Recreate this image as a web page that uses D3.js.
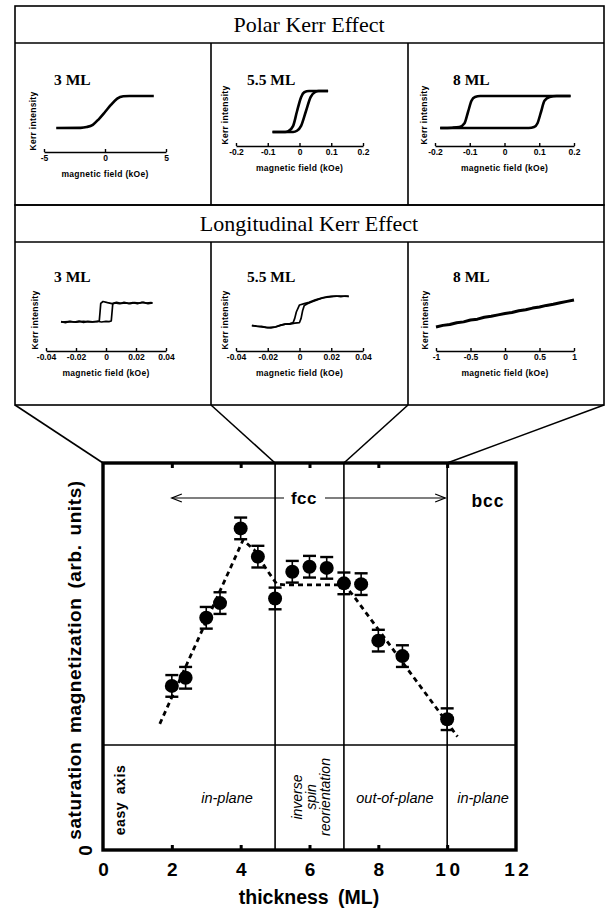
<!DOCTYPE html>
<html>
<head>
<meta charset="utf-8">
<script src="https://cdn.jsdelivr.net/npm/d3@7"></script>
<style>
body { margin: 0; background: #fff; }
svg { display: block; }
.sans { font-family: "Liberation Sans", Arial, Helvetica, sans-serif; font-weight: bold; }
.serif { font-family: "Liberation Serif", "Times New Roman", serif; }
.mini .tick text { font-family: "Liberation Sans", Arial, sans-serif; font-weight: bold; font-size: 8.5px; }
</style>
</head>
<body>
<svg id="fig" width="605" height="910"></svg>
<script>
// ---- main chart data: saturation magnetization vs thickness ----
var thickness = [2, 2.4, 3, 3.4, 4, 4.5, 5, 5.5, 6, 6.5, 7, 7.5, 8, 8.7, 10];
var magnetization = [4.24, 4.45, 6.0, 6.38, 8.31, 7.58, 6.50, 7.19, 7.32, 7.29, 6.89, 6.87, 5.41, 5.01, 3.38];
var errorHalf = 0.28;
// dashed guide to the eye
var guideX = [1.65, 4.07, 4.4, 4.75, 5.05, 5.3, 7.0, 7.25, 10.3];
var guideY = [3.26, 8.01, 7.75, 7.25, 6.87, 6.85, 6.85, 6.6, 2.93];
var xTicks = [0, 2, 4, 6, 8, 10, 12];
var phaseLines = [5, 7, 10];

// ---- inset loops (normalised Kerr intensity, 0 = low level, 1 = high level) ----
var miniLabels = ["3 ML", "5.5 ML", "8 ML"];
var polarTicks = [[-5, 0, 5], [-0.2, -0.1, 0, 0.1, 0.2], [-0.2, -0.1, 0, 0.1, 0.2]];
var longTicks = [[-0.04, -0.02, 0, 0.02, 0.04], [-0.04, -0.02, 0, 0.02, 0.04], [-1, -0.5, 0, 0.5, 1]];

var polar3 = [[-4, 0], [-2, 0.005], [-1.5, 0.03], [-1, 0.1], [-0.5, 0.28], [0, 0.5], [0.5, 0.73], [1, 0.92], [1.5, 0.99], [2, 1], [4, 1]];
var polar55Up = [[-0.085, 0], [-0.02, 0], [-0.008, 0.03], [0.005, 0.15], [0.02, 0.5], [0.035, 0.85], [0.05, 0.98], [0.06, 1], [0.09, 1]];
var polar55Down = [[-0.085, 0], [-0.045, 0], [-0.035, 0.02], [-0.02, 0.15], [-0.008, 0.5], [0.005, 0.85], [0.015, 0.97], [0.03, 1], [0.09, 1]];
var polar8Up = [[-0.185, 0], [0.07, 0], [0.085, 0.03], [0.095, 0.15], [0.105, 0.5], [0.115, 0.85], [0.13, 0.97], [0.15, 1], [0.19, 1]];
var polar8Down = [[-0.185, 0], [-0.15, 0.01], [-0.13, 0.03], [-0.115, 0.15], [-0.105, 0.5], [-0.095, 0.85], [-0.085, 0.97], [-0.07, 1], [0.19, 1]];

var long3Up = [[-0.030, 0.02], [-0.027, -0.03], [-0.024, 0.04], [-0.021, 0.0], [-0.018, 0.05], [-0.015, -0.02], [-0.012, 0.03], [-0.009, 0.01], [-0.006, 0.04], [-0.003, 0.0], [0.000, 0.03], [0.002, 0.02], [0.0035, 0.05], [0.004, 0.5], [0.0045, 0.95], [0.006, 1.0], [0.009, 0.96], [0.012, 1.03], [0.015, 0.98], [0.018, 1.02], [0.021, 0.97], [0.024, 1.04], [0.027, 0.99], [0.030, 1.02], [0.031, 1.0]];
var long3Down = [[0.031, 1.0], [0.028, 0.97], [0.025, 1.03], [0.022, 0.99], [0.019, 1.02], [0.016, 0.96], [0.013, 1.01], [0.010, 0.98], [0.007, 1.03], [0.004, 0.97], [0.001, 1.02], [-0.002, 1.08], [-0.0035, 0.98], [-0.004, 0.5], [-0.0045, 0.05], [-0.006, 0.02], [-0.010, 0.0], [-0.015, 0.03], [-0.020, -0.01], [-0.025, 0.02], [-0.030, 0.0]];
var long55Up = [[-0.030, 0.08], [-0.027, 0.06], [-0.024, 0.05], [-0.021, 0.02], [-0.018, 0.0], [-0.015, 0.03], [-0.012, 0.08], [-0.009, 0.12], [-0.006, 0.12], [-0.003, 0.15], [0.000, 0.17], [0.001, 0.30], [0.002, 0.55], [0.003, 0.70], [0.005, 0.76], [0.008, 0.82], [0.011, 0.88], [0.014, 0.93], [0.017, 0.97], [0.020, 0.99], [0.023, 1.0], [0.026, 0.98], [0.029, 1.0], [0.031, 0.99]];
var long55Down = [[0.031, 0.99], [0.025, 1.0], [0.020, 0.98], [0.015, 0.95], [0.010, 0.88], [0.006, 0.80], [0.003, 0.76], [0.000, 0.72], [-0.002, 0.50], [-0.003, 0.30], [-0.004, 0.17], [-0.006, 0.14], [-0.009, 0.12], [-0.012, 0.09], [-0.015, 0.04], [-0.020, 0.01], [-0.025, 0.04], [-0.030, 0.07]];
var long8 = [[-1, 0.0], [-0.9, 0.06], [-0.8, 0.09], [-0.7, 0.16], [-0.6, 0.19], [-0.5, 0.26], [-0.4, 0.29], [-0.3, 0.36], [-0.2, 0.40], [-0.1, 0.45], [0, 0.50], [0.1, 0.54], [0.2, 0.60], [0.3, 0.64], [0.4, 0.70], [0.5, 0.74], [0.6, 0.80], [0.7, 0.84], [0.8, 0.90], [0.9, 0.95], [1, 1.0]];

// ---- layout ----
var svg = d3.select("#fig");
var colX = [15, 211, 408], rightEdge = 604;
var rows = [
  {top: 6, sep: 43, bottom: 205, title: "Polar Kerr Effect", labelY: 85, ticks: polarTicks},
  {top: 205, sep: 242, bottom: 405, title: "Longitudinal Kerr Effect", labelY: 282, ticks: longTicks}
];
var labelX = [54, 247, 453];
var insets = [
  [ {x: [44, 166], axisY: 152, lo: 128, hi: 96, loops: [polar3], smooth: true},
    {x: [236, 363], axisY: 146, lo: 132, hi: 91, loops: [polar55Up, polar55Down], smooth: true},
    {x: [435, 574], axisY: 146, lo: 128, hi: 96, loops: [polar8Up, polar8Down], smooth: true} ],
  [ {x: [46, 166], axisY: 351, lo: 322, hi: 303, loops: [long3Up, long3Down], smooth: false},
    {x: [236, 363], axisY: 351, lo: 328, hi: 296, loops: [long55Up, long55Down], smooth: false},
    {x: [436, 574], axisY: 351, lo: 327, hi: 300, loops: [long8], smooth: false, thick: true} ]
];

var boxes = svg.append("g").attr("stroke", "#000").attr("stroke-width", 1.6).attr("fill", "none");

rows.forEach(function(r, ri) {
  boxes.append("rect").attr("x", colX[0]).attr("y", r.top).attr("width", rightEdge - colX[0]).attr("height", r.bottom - r.top);
  boxes.append("line").attr("x1", colX[0]).attr("x2", rightEdge).attr("y1", r.sep).attr("y2", r.sep);
  colX.slice(1).forEach(function(cx) {
    boxes.append("line").attr("x1", cx).attr("x2", cx).attr("y1", r.sep).attr("y2", r.bottom);
  });
  svg.append("text").attr("class", "serif").attr("x", 309).attr("y", r.sep - 11)
    .attr("text-anchor", "middle").attr("font-size", 22).text(r.title);

  insets[ri].forEach(function(p, ci) {
    var fields = r.ticks[ci];
    var hx = d3.scaleLinear().domain([fields[0], fields[fields.length - 1]]).range(p.x);
    var hy = d3.scaleLinear().domain([0, 1]).range([p.lo, p.hi]);
    var g = svg.append("g").attr("class", "mini");

    g.append("text").attr("class", "serif").attr("x", labelX[ci]).attr("y", r.labelY)
      .attr("font-size", 15.5).attr("font-weight", "bold").text(miniLabels[ci]);

    g.append("g").attr("transform", "translate(0," + p.axisY + ")")
      .call(d3.axisBottom(hx).tickValues(fields).tickSizeInner(-3).tickSizeOuter(0).tickPadding(3)
        .tickFormat(function(d) { return String(d); }))
      .call(function(a) { a.selectAll("path, line").attr("stroke-width", 1.4); });

    g.append("text").attr("class", "sans").attr("font-size", 8.5).attr("letter-spacing", 0.3)
      .attr("x", (p.x[0] + p.x[1]) / 2).attr("y", p.axisY + 25).attr("text-anchor", "middle")
      .text("magnetic field (kOe)");
    g.append("text").attr("class", "sans").attr("font-size", 8.5).attr("letter-spacing", 0.3)
      .attr("transform", "translate(" + (p.x[0] - 8) + "," + (p.axisY - 31) + ") rotate(-90)")
      .attr("text-anchor", "middle").text("Kerr intensity");

    var line = d3.line()
      .x(function(d) { return hx(d[0]); })
      .y(function(d) { return hy(d[1]); })
      .curve(p.smooth ? d3.curveMonotoneX : d3.curveLinear);
    p.loops.forEach(function(loop) {
      var pts = loop.slice().sort(function(a, b) { return a[0] - b[0]; });
      g.append("path").datum(p.smooth ? pts : loop)
        .attr("fill", "none").attr("stroke", "#000")
        .attr("stroke-width", p.thick ? 3 : (p.smooth ? 2.6 : 1.7))
        .attr("stroke-linejoin", "round")
        .attr("d", line);
    });
  });
});

// ---- main chart ----
var margin = {left: 103, right: 516, top: 463, bottom: 850};
var x = d3.scaleLinear().domain([0, 12]).range([margin.left, margin.right]);
var y = d3.scaleLinear().domain([0, 10]).range([margin.bottom, margin.top]);

// connectors from the inset panels to the phase boundaries
var connect = [[colX[0], 0], [colX[1], 5], [colX[2], 7], [rightEdge, 10]];
connect.forEach(function(c) {
  svg.append("line").attr("x1", c[0]).attr("y1", 405).attr("x2", x(c[1])).attr("y2", margin.top)
    .attr("stroke", "#000").attr("stroke-width", 1.6);
});

var plot = svg.append("g");

// phase boundaries and divider
phaseLines.forEach(function(t) {
  plot.append("line").attr("x1", x(t)).attr("x2", x(t)).attr("y1", margin.top).attr("y2", margin.bottom)
    .attr("stroke", "#000").attr("stroke-width", 1.6);
});
plot.append("line").attr("x1", margin.left).attr("x2", margin.right).attr("y1", 745).attr("y2", 745)
  .attr("stroke", "#000").attr("stroke-width", 1.6);

// inner tick marks
plot.append("g").attr("transform", "translate(0," + margin.bottom + ")")
  .call(d3.axisBottom(x).tickValues([2, 4, 6, 8, 10]).tickSize(-5).tickFormat(""))
  .call(function(a) { a.select(".domain").remove(); a.selectAll("line").attr("stroke-width", 3); });
plot.append("g").attr("transform", "translate(0," + margin.top + ")")
  .call(d3.axisTop(x).tickValues([2, 4, 6, 8, 10]).tickSize(-5).tickFormat(""))
  .call(function(a) { a.select(".domain").remove(); a.selectAll("line").attr("stroke-width", 3); });

// tick labels
var xAxis = plot.append("g").attr("transform", "translate(0," + margin.bottom + ")")
  .call(d3.axisBottom(x).tickValues(xTicks).tickSize(0).tickPadding(13).tickFormat(function(d) { return String(d); }));
xAxis.select(".domain").remove();
xAxis.selectAll("text").attr("class", "sans").attr("font-size", 19).attr("letter-spacing", 3.5).attr("dx", 1.75);

var yAxis = plot.append("g").attr("transform", "translate(" + margin.left + ",0)")
  .call(d3.axisLeft(y).tickValues([0]).tickSize(0).tickPadding(0).tickFormat(function(d) { return String(d); }));
yAxis.select(".domain").remove();
yAxis.selectAll("text").attr("class", "sans").attr("font-size", 19)
  .attr("text-anchor", "middle").attr("dy", 0).attr("x", 0)
  .attr("transform", "translate(-16,0) rotate(-90)").attr("dominant-baseline", "middle");

// frame
plot.append("rect").attr("x", margin.left).attr("y", margin.top)
  .attr("width", margin.right - margin.left).attr("height", margin.bottom - margin.top)
  .attr("fill", "none").attr("stroke", "#000").attr("stroke-width", 3.4);

svg.append("text").attr("class", "sans").attr("font-size", 19.5).attr("word-spacing", 4).attr("x", 309).attr("y", 904)
  .attr("text-anchor", "middle").text("thickness (ML)");
svg.append("text").attr("class", "sans").attr("font-size", 19).attr("letter-spacing", 0.6).attr("word-spacing", 3)
  .attr("transform", "translate(81,660) rotate(-90)").attr("text-anchor", "middle")
  .text("saturation magnetization (arb. units)");

// fcc / bcc arrow
var arrowY = 498;
plot.append("line").attr("x1", x(2)).attr("x2", 284).attr("y1", arrowY).attr("y2", arrowY).attr("stroke", "#000").attr("stroke-width", 1.2);
plot.append("line").attr("x1", 325).attr("x2", x(10) - 2).attr("y1", arrowY).attr("y2", arrowY).attr("stroke", "#000").attr("stroke-width", 1.2);
plot.append("path").attr("d", "M" + (x(2) + 10) + "," + (arrowY - 4) + "L" + x(2) + "," + arrowY + "L" + (x(2) + 10) + "," + (arrowY + 4))
  .attr("fill", "none").attr("stroke", "#000").attr("stroke-width", 1.3);
plot.append("path").attr("d", "M" + (x(10) - 12) + "," + (arrowY - 4) + "L" + (x(10) - 2) + "," + arrowY + "L" + (x(10) - 12) + "," + (arrowY + 4))
  .attr("fill", "none").attr("stroke", "#000").attr("stroke-width", 1.3);
plot.append("rect").attr("x", 285).attr("y", arrowY - 10).attr("width", 38).attr("height", 18).attr("fill", "#fff");
plot.append("text").attr("class", "sans").attr("font-size", 17).attr("letter-spacing", 0.5).attr("x", 304).attr("y", arrowY + 6)
  .attr("text-anchor", "middle").text("fcc");
plot.append("text").attr("class", "sans").attr("font-size", 17.5).attr("letter-spacing", 1).attr("x", 488).attr("y", 507)
  .attr("text-anchor", "middle").text("bcc");

// easy-axis region labels
var regionFont = "Liberation Sans, Arial, sans-serif";
plot.append("text").attr("class", "sans").attr("font-size", 14).attr("letter-spacing", 0.6).attr("word-spacing", 3)
  .attr("transform", "translate(125,800) rotate(-90)").attr("text-anchor", "middle").text("easy axis");
[["in-plane", 227], ["out-of-plane", 395], ["in-plane", 483]].forEach(function(t) {
  plot.append("text").attr("font-family", regionFont).attr("font-style", "italic").attr("font-size", 14.5)
    .attr("x", t[1]).attr("y", 803).attr("text-anchor", "middle").text(t[0]);
});
[["inverse", 302], ["spin", 316], ["reorientation", 330]].forEach(function(t) {
  plot.append("text").attr("font-family", regionFont).attr("font-style", "italic").attr("font-size", 14)
    .attr("transform", "translate(" + t[1] + ",797) rotate(-90)").attr("text-anchor", "middle").text(t[0]);
});

// dashed guide
var guide = guideX.map(function(v, i) { return [v, guideY[i]]; });
plot.append("path").datum(guide)
  .attr("fill", "none").attr("stroke", "#000").attr("stroke-width", 2.8).attr("stroke-dasharray", "5,4")
  .attr("d", d3.line().x(function(d) { return x(d[0]); }).y(function(d) { return y(d[1]); }));

// points with error bars
var pts = thickness.map(function(t, i) { return {t: t, m: magnetization[i]}; });
var pg = plot.append("g").selectAll("g").data(pts).enter().append("g");
pg.append("line")
  .attr("x1", function(d) { return x(d.t); }).attr("x2", function(d) { return x(d.t); })
  .attr("y1", function(d) { return y(d.m - errorHalf); }).attr("y2", function(d) { return y(d.m + errorHalf); })
  .attr("stroke", "#000").attr("stroke-width", 1.6);
[-1, 1].forEach(function(s) {
  pg.append("line")
    .attr("x1", function(d) { return x(d.t) - 6.5; }).attr("x2", function(d) { return x(d.t) + 6.5; })
    .attr("y1", function(d) { return y(d.m + s * errorHalf); }).attr("y2", function(d) { return y(d.m + s * errorHalf); })
    .attr("stroke", "#000").attr("stroke-width", 2.4);
});
pg.append("circle")
  .attr("cx", function(d) { return x(d.t); }).attr("cy", function(d) { return y(d.m); })
  .attr("r", 7).attr("fill", "#000");
</script>
</body>
</html>
